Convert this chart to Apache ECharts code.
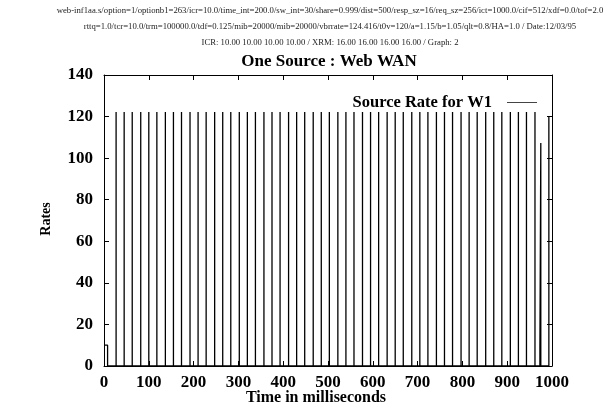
<!DOCTYPE html>
<html>
<head>
<meta charset="utf-8">
<script src="https://cdn.jsdelivr.net/npm/echarts@6/dist/echarts.min.js"></script>
<style>
  html, body { margin: 0; padding: 0; background: #fff; }
  #chart { width: 608px; height: 413px; }
</style>
</head>
<body>
<div id="chart"></div>
<script>
// Run parameters printed above the plot
var headerLines = [
  'web-inf1aa.s/option=1/optionb1=263/icr=10.0/time_int=200.0/sw_int=30/share=0.999/dist=500/resp_sz=16/req_sz=256/ict=1000.0/cif=512/xdf=0.0/tof=2.0',
  'rttq=1.0/tcr=10.0/trm=100000.0/tdf=0.125/mib=20000/mib=20000/vbrrate=124.416/t0v=120/a=1.15/b=1.05/qlt=0.8/HA=1.0 / Date:12/03/95',
  'ICR: 10.00 10.00 10.00 10.00 / XRM: 16.00 16.00 16.00 16.00 / Graph: 2'
];
var chartTitle = 'One Source : Web WAN';
var seriesName = 'Source Rate for W1';
var xAxisTitle = 'Time in milliseconds';
var yAxisTitle = 'Rates';

// Initial cell rate before the first burst (ms, rate)
var startStep = { end: 8, rate: 10 };

// Burst instants (ms) and the rate reached at each burst
var pulseTimes = [27, 45, 63, 82, 100, 118, 137, 155, 173, 192, 210, 228, 247, 265,
  283, 302, 320, 338, 357, 375, 393, 412, 430, 448, 467, 485, 503, 522, 540, 558,
  577, 595, 613, 632, 650, 668, 687, 705, 723, 742, 760, 778, 797, 815, 833, 852,
  870, 888, 907, 925, 943, 962, 975, 993];
var pulseRates = [122.2, 122.2, 122.2, 122.2, 122.2, 122.2, 122.2, 122.2, 122.2, 122.2,
  122.2, 122.2, 122.2, 122.2, 122.2, 122.2, 122.2, 122.2, 122.2, 122.2, 122.2, 122.2,
  122.2, 122.2, 122.2, 122.2, 122.2, 122.2, 122.2, 122.2, 122.2, 122.2, 122.2, 122.2,
  122.2, 122.2, 122.2, 122.2, 122.2, 122.2, 122.2, 122.2, 122.2, 122.2, 122.2, 122.2,
  122.2, 122.2, 122.2, 122.2, 122.2, 122.2, 107.3, 120.3];
// Short low-rate shoulder just before the late burst
var shoulder = { start: 973, rate: 8 };

// Assemble the impulse trace
var trace = [[0, startStep.rate], [startStep.end, startStep.rate], [startStep.end, 0]];
for (var i = 0; i < pulseTimes.length; i++) {
  var t = pulseTimes[i];
  if (t > shoulder.start && trace[trace.length - 1][0] < shoulder.start) {
    trace.push([shoulder.start, 0], [shoulder.start, shoulder.rate], [t, shoulder.rate]);
  } else {
    trace.push([t, 0]);
  }
  trace.push([t, pulseRates[i]]);
  if (i < pulseTimes.length - 1) trace.push([t, 0]);
}

var serif = 'Liberation Serif';
var chart = echarts.init(document.getElementById('chart'));

function frameAxis(extra) {
  return Object.assign({
    type: 'value',
    axisLine: { show: true, onZero: false, lineStyle: { color: '#000', width: 1 } },
    axisTick: { show: true, inside: true, length: 5, lineStyle: { color: '#000' } },
    splitLine: { show: false }
  }, extra);
}
var tickLabel = { fontFamily: serif, fontSize: 17, fontWeight: 'bold', color: '#000',
  formatter: function (v) { return String(v); } };
var headerStyle = { fontFamily: serif, fontSize: 8.7, fontWeight: 'normal', color: '#222' };

chart.setOption({
  animation: false,
  backgroundColor: '#fff',
  title: [
    { text: headerLines[0], left: 325, textAlign: 'center', top: 1, textStyle: headerStyle },
    { text: headerLines[1], left: 325, textAlign: 'center', top: 17, textStyle: headerStyle },
    { text: headerLines[2], left: 325, textAlign: 'center', top: 33, textStyle: headerStyle },
    { text: chartTitle, left: 324, textAlign: 'center', top: 48,
      textStyle: { fontFamily: serif, fontSize: 17, fontWeight: 'bold', color: '#000' } }
  ],
  legend: {
    right: 66, top: 89, align: 'right', itemWidth: 30, itemHeight: 16,
    data: [{ name: seriesName, icon: 'path://M0,8H30V9H0Z', itemStyle: { color: '#444' } }],
    textStyle: { fontFamily: serif, fontSize: 16.5, fontWeight: 'bold', color: '#000', padding: [0, 10, 0, 0] }
  },
  grid: { left: 104, right: 56, top: 75, bottom: 47 },
  xAxis: [
    frameAxis({ min: 0, max: 1000, interval: 100, position: 'bottom',
      axisLabel: Object.assign({ margin: 8 }, tickLabel) }),
    frameAxis({ min: 0, max: 1000, interval: 100, position: 'top', axisLabel: { show: false } })
  ],
  yAxis: [
    frameAxis({ min: 0, max: 140, interval: 20, position: 'left',
      axisLabel: Object.assign({ margin: 11 }, tickLabel) }),
    frameAxis({ min: 0, max: 140, interval: 20, position: 'right', axisLabel: { show: false } })
  ],
  graphic: [
    { type: 'text', x: 316, y: 398,
      style: { text: xAxisTitle, font: 'bold 16px "Liberation Serif"', fill: '#000',
        align: 'center', verticalAlign: 'middle' } },
    { type: 'text', x: 46, y: 219, rotation: Math.PI / 2,
      style: { text: yAxisTitle, font: 'bold 14px "Liberation Serif"', fill: '#000',
        align: 'center', verticalAlign: 'middle' } }
  ],
  series: [{
    name: seriesName, type: 'line', xAxisIndex: 0, yAxisIndex: 0,
    data: trace, showSymbol: false, symbol: 'none',
    lineStyle: { color: '#000', width: 1.3 }, itemStyle: { color: '#000' }
  }]
});
</script>
</body>
</html>
